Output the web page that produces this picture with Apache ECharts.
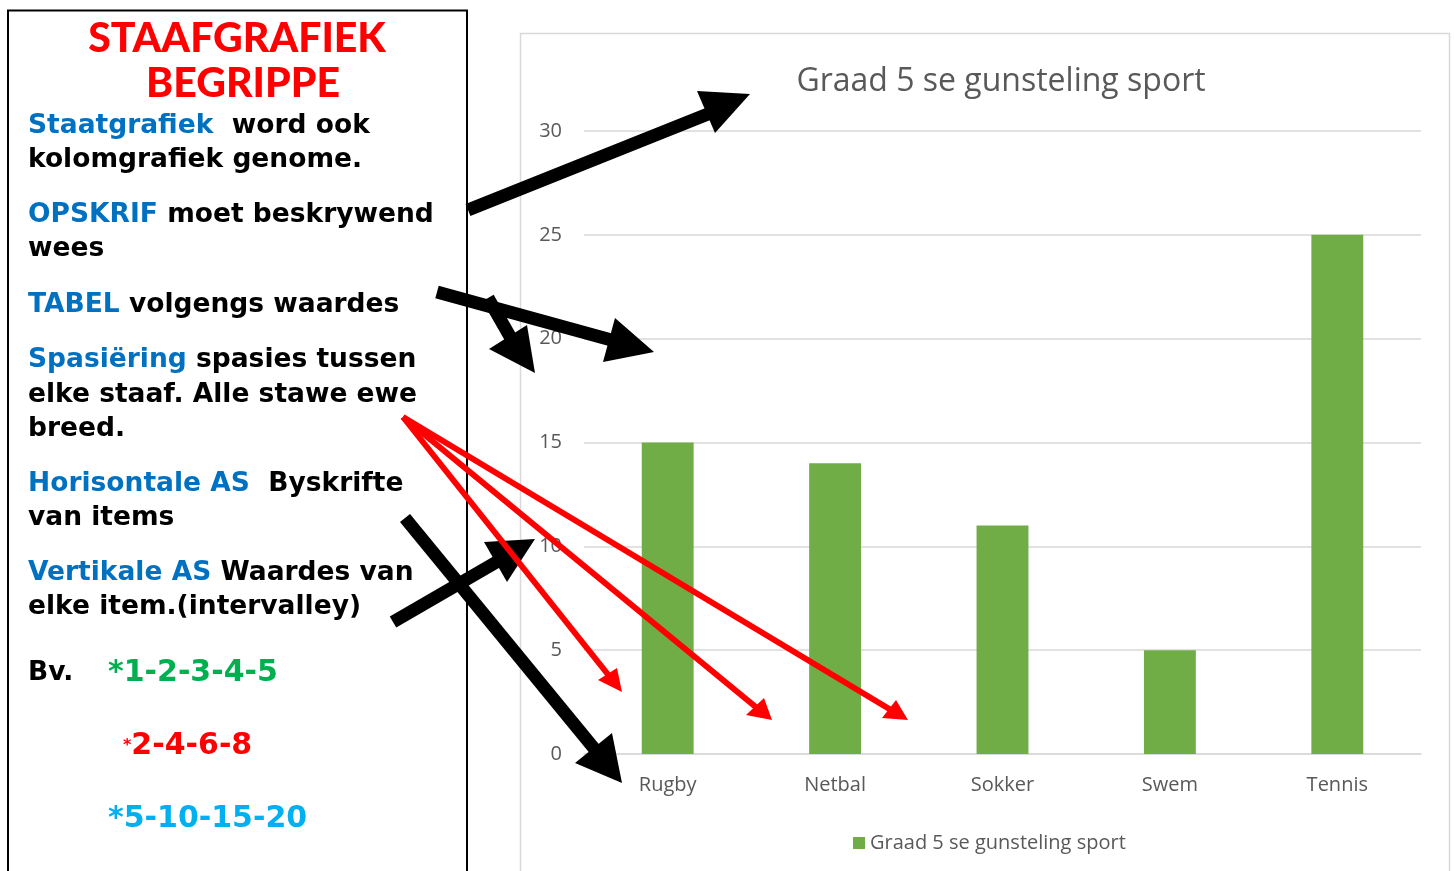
<!DOCTYPE html>
<html>
<head>
<meta charset="utf-8">
<script src="https://cdn.jsdelivr.net/npm/echarts@6/dist/echarts.min.js"></script>
<style>
html,body{margin:0;padding:0;background:#fff;}
#main{width:1454px;height:871px;}
</style>
</head>
<body>
<div id="main"></div>
<script>
// data
var categories = ['Rugby', 'Netbal', 'Sokker', 'Swem', 'Tennis'];
var learners = [15, 14, 11, 5, 25];
var seriesName = 'Graad 5 se gunsteling sport';
var chartTitle = 'Graad 5 se gunsteling sport';
var yMin = 0, yMax = 30, yStep = 5;

// left note box lines
var noteLines = [
  ['{b|Staatgrafiek}  word ook', 126],
  ['kolomgrafiek genome.', 160],
  ['{b|OPSKRIF} moet beskrywend', 215],
  ['wees', 249],
  ['{b|TABEL} volgengs waardes', 305],
  ['{b|Spasiëring} spasies tussen', 360],
  ['elke staaf. Alle stawe ewe', 395],
  ['breed.', 429],
  ['{b|Horisontale AS}  Byskrifte', 484],
  ['van items', 518],
  ['{b|Vertikale AS} Waardes van', 573],
  ['elke item.(intervalley)', 607]
];

var chart = echarts.init(document.getElementById('main'));

var txtFont = '"DejaVu Sans", sans-serif';
var headFont = 'Lato, "DejaVu Sans", sans-serif';

var graphics = [];
// chart outer frame
graphics.push({type:'rect', z:0, shape:{x:520.5, y:33.5, width:929, height:860}, style:{fill:'none', stroke:'#d9d9d9', lineWidth:1.5}});
// left box
graphics.push({type:'rect', z:1, shape:{x:8, y:10.5, width:459, height:880}, style:{fill:'#fff', stroke:'#000', lineWidth:2}});
graphics.push({type:'text', z:2, x:237, y:39, style:{text:'STAAFGRAFIEK', fill:'#ff0000', font:'900 41px ' + headFont, align:'center', verticalAlign:'middle'}});
graphics.push({type:'text', z:2, x:243, y:84, style:{text:'BEGRIPPE', fill:'#ff0000', font:'900 41px ' + headFont, align:'center', verticalAlign:'middle'}});
noteLines.forEach(function(l){
  graphics.push({type:'text', z:2, x:28, y:l[1], style:{
    text:l[0], fill:'#000', font:'bold 26.5px ' + txtFont, verticalAlign:'middle',
    rich:{b:{fill:'#0070c0', font:'bold 26.5px ' + txtFont}}
  }});
});
graphics.push({type:'text', z:2, x:28, y:673, style:{text:'Bv.', fill:'#000', font:'bold 26.5px ' + txtFont, verticalAlign:'middle'}});
graphics.push({type:'text', z:2, x:108, y:673, style:{text:'*1-2-3-4-5', fill:'#00b050', font:'bold 30px ' + txtFont, verticalAlign:'middle'}});
graphics.push({type:'text', z:2, x:123, y:746, style:{text:'{s|*}2-4-6-8', fill:'#ff0000', font:'bold 30px ' + txtFont, verticalAlign:'middle',
  rich:{s:{fill:'#ff0000', font:'bold 16px ' + txtFont}}}});
graphics.push({type:'text', z:2, x:108, y:819, style:{text:'*5-10-15-20', fill:'#00b0f0', font:'bold 30px ' + txtFont, verticalAlign:'middle'}});

// arrows (annotation overlay)
function arrow(x1, y1, x2, y2, head, color, w){
  graphics.push({type:'line', z:10, shape:{x1:x1, y1:y1, x2:x2, y2:y2}, style:{stroke:color, lineWidth:w}});
  graphics.push({type:'polygon', z:10, shape:{points:head}, style:{fill:color}});
}
arrow(468, 210, 708, 114, [[750,94],[697,91],[715,133]], '#000', 13);
arrow(437, 292, 615, 341, [[654,352],[615,318],[603,362]], '#000', 13);
arrow(488, 298, 512, 340, [[535,373],[489,349],[527,325]], '#000', 13);
arrow(393, 622, 500, 560, [[535,539],[484,542],[507,582]], '#000', 13);
arrow(405, 518, 597, 752, [[622,783],[575,763],[612,733]], '#000', 13);
arrow(403, 417, 610, 677, [[622,692],[598,680],[617,668]], '#ff0000', 6);
arrow(403, 417, 757, 708, [[772,720],[746,715],[764,698]], '#ff0000', 6);
arrow(403, 417, 891, 710, [[908,720],[882,718],[896,700]], '#ff0000', 6);

option = {
  backgroundColor:'#fff',
  animation:false,
  title:{
    text:chartTitle,
    left:996, top:61, textAlign:'center',
    textStyle:{color:'#595959', fontSize:32, fontWeight:'normal', fontFamily:'"Open Sans", sans-serif'}
  },
  legend:{
    data:[seriesName],
    left:848, top:828,
    itemWidth:12, itemHeight:12, icon:'rect', itemGap:6,
    textStyle:{color:'#595959', fontSize:20, fontFamily:'"Open Sans", sans-serif'}
  },
  grid:{left:584, right:33, top:131, bottom:117, containLabel:false},
  xAxis:{
    type:'category',
    data:categories,
    axisLine:{lineStyle:{color:'#d9d9d9', width:1.5}},
    axisTick:{show:false},
    axisLabel:{color:'#595959', fontSize:20, margin:21, fontFamily:'"Open Sans", sans-serif'}
  },
  yAxis:{
    type:'value',
    min:yMin, max:yMax, interval:yStep,
    axisLine:{show:false},
    axisTick:{show:false},
    splitLine:{lineStyle:{color:'#d9d9d9', width:1.5}},
    axisLabel:{color:'#595959', fontSize:20, margin:22, fontFamily:'"Open Sans", sans-serif'}
  },
  series:[{
    name:seriesName,
    type:'bar',
    barWidth:'31%',
    data:learners,
    itemStyle:{color:'#70ad47'}
  }],
  graphic:graphics
};
chart.setOption(option);
</script>
</body>
</html>
